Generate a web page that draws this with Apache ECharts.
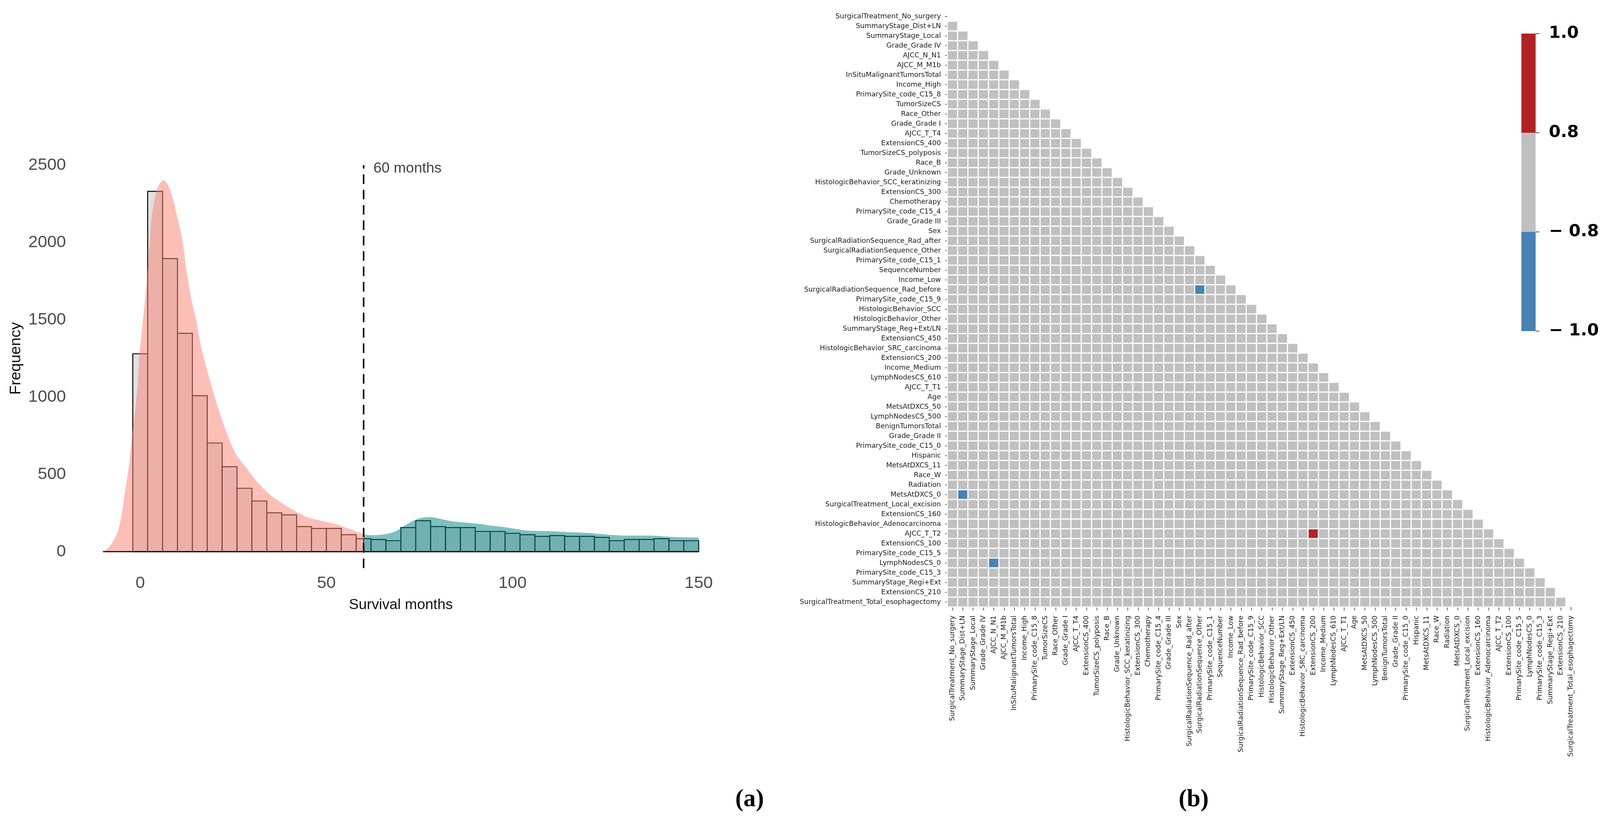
<!DOCTYPE html>
<html><head><meta charset="utf-8">
<script src="https://cdn.jsdelivr.net/npm/echarts@6/dist/echarts.min.js"></script>
<style>html,body{margin:0;padding:0;background:#fff;overflow:hidden;} #chart{position:absolute;left:0;top:0;}</style>
</head><body><div id="chart"></div>
<script>
// ---------- (a) Survival-months histogram ----------
const binEdges = [-2,2,6,10,14,18,22,26,30,34,38,42,46,50,54,58,60,62,66,70,74,78,82,86,90,94,98,102,106,110,114,118,122,126,130,134,138,142,146,150];
const binCounts = [1280,2331,1896,1412,1009,703,550,410,328,251,238,162,150,150,110,84,
                   84,79,71,156,200,162,156,156,131,131,119,110,99,104,99,99,93,71,79,79,84,71,71];
const pinkDensityMonths = [-10,-9,-8,-7,-6,-5,-4,-3,-2.2,-1.2,-0.6,-0.2,0.5,1,1.5,2.2,3,4,5,6.3,7.6,9,10,11.3,12.6,14,15,16.2,18,20,22,24,26,28.5,31,35,41,45,50,53,57.5,60];
const pinkDensityFreq   = [0,15,40,80,130,240,400,560,750,942,1110,1280,1440,1560,1680,1881,2150,2294,2371,2404,2364,2263,2157,2018,1789,1600,1505,1340,1169,1000,850,720,620,543,463,366,270,222,193,174,135,114];
const tealDensityMonths = [60,62,64,66,68.5,70.8,72.9,75,77.9,80.6,84,87.2,90.6,93.8,98.3,103.7,109.2,114.7,120.3,125.8,131.3,136.8,142.3,150];
const tealDensityFreq   = [110,107,108,114,131,165,195,216,224,212,196,189,181,170,157,137,133,127,121,110,104,104,96,91];
const cutoffMonth = 60;
const cutoffLabel = '60 months';
const histXTicks = [0,50,100,150];

// ---------- (b) Correlation heatmap ----------
const heatmapVars = [
 'SurgicalTreatment_No_surgery','SummaryStage_Dist+LN','SummaryStage_Local','Grade_Grade IV','AJCC_N_N1','AJCC_M_M1b',
 'InSituMalignantTumorsTotal','Income_High','PrimarySite_code_C15_8','TumorSizeCS','Race_Other','Grade_Grade I','AJCC_T_T4',
 'ExtensionCS_400','TumorSizeCS_polyposis','Race_B','Grade_Unknown','HistologicBehavior_SCC_keratinizing','ExtensionCS_300',
 'Chemotherapy','PrimarySite_code_C15_4','Grade_Grade III','Sex','SurgicalRadiationSequence_Rad_after','SurgicalRadiationSequence_Other',
 'PrimarySite_code_C15_1','SequenceNumber','Income_Low','SurgicalRadiationSequence_Rad_before','PrimarySite_code_C15_9',
 'HistologicBehavior_SCC','HistologicBehavior_Other','SummaryStage_Reg+Ext/LN','ExtensionCS_450','HistologicBehavior_SRC_carcinoma',
 'ExtensionCS_200','Income_Medium','LymphNodesCS_610','AJCC_T_T1','Age','MetsAtDXCS_50','LymphNodesCS_500','BenignTumorsTotal',
 'Grade_Grade II','PrimarySite_code_C15_0','Hispanic','MetsAtDXCS_11','Race_W','Radiation','MetsAtDXCS_0',
 'SurgicalTreatment_Local_excision','ExtensionCS_160','HistologicBehavior_Adenocarcinoma','AJCC_T_T2','ExtensionCS_100',
 'PrimarySite_code_C15_5','LymphNodesCS_0','PrimarySite_code_C15_3','SummaryStage_Regi+Ext','ExtensionCS_210',
 'SurgicalTreatment_Total_esophagectomy'
];
// cells whose |r| >= 0.8 (row variable, column variable, estimated r)
const strongCorrelations = [
 ['SurgicalRadiationSequence_Rad_before','SurgicalRadiationSequence_Other',-0.85],
 ['MetsAtDXCS_0','SummaryStage_Dist+LN',-0.85],
 ['AJCC_T_T2','ExtensionCS_200',0.85],
 ['LymphNodesCS_0','AJCC_N_N1',-0.85]
];
const weakCorrelation = 0; // every other lower-triangle cell lies in the grey band (-0.8, 0.8)
const colorbarTickLabels = ['− 1.0','− 0.8','0.8','1.0'];
const colorbarBandColors = ['#4682b4','#c0c0c0','#b22222'];

// ---------- build ----------
const histData = binCounts.map((c,k)=>[binEdges[k], binEdges[k+1], c]);
const pinkData = pinkDensityMonths.map((m,k)=>[m, pinkDensityFreq[k]]);
const tealData = tealDensityMonths.map((m,k)=>[m, tealDensityFreq[k]]);
const heatData = [];
for (let i=0;i<heatmapVars.length;i++){
  for (let j=0;j<i;j++){
    let v = weakCorrelation;
    strongCorrelations.forEach(s=>{ if(s[0]===heatmapVars[i] && s[1]===heatmapVars[j]) v = s[2]; });
    heatData.push([j,i,v]);
  }
}

// layout is designed for 4233x2113 and scaled to the actual viewport
const W = window.innerWidth || 4233, H = window.innerHeight || 2113;
const sx = W/4233, sy = H/2113, sf = (sx+sy)/2;
const X = v=>v*sx, Y = v=>v*sy, F = v=>v*sf;
const el = document.getElementById('chart');
el.style.width = W+'px'; el.style.height = H+'px';

const chart = echarts.init(el, null, {renderer:'canvas', devicePixelRatio:1, width:W, height:H});
const HF = 'Liberation Sans, Arial, sans-serif';
const DF = 'DejaVu Sans, sans-serif';
const n = heatmapVars.length;
const panelRich = {p:{fontFamily:'Liberation Serif',fontSize:F(64),color:'#000'},b:{fontFamily:'Liberation Serif',fontSize:F(64),fontWeight:'bold',color:'#000'}};

chart.setOption({
  animation:false,
  backgroundColor:'#fff',
  title:[
    {text:'{p|(}{b|a}{p|)}', left:X(1940), top:Y(2012), textStyle:{rich:panelRich}},
    {text:'{p|(}{b|b}{p|)}', left:X(3113), top:Y(2012), textStyle:{rich:panelRich}}
  ],
  visualMap:{
    type:'piecewise', show:false, seriesIndex:5, dimension:2,
    pieces:[{lte:-0.8,color:colorbarBandColors[0]},{gt:-0.8,lt:0.8,color:colorbarBandColors[1]},{gte:0.8,color:colorbarBandColors[2]}]
  },
  grid:[
    {left:X(272.5), top:Y(423), width:X(1576), height:Y(990)},
    {left:X(2506.4), top:Y(29.5), width:X(27.27*n), height:Y(25*n)},
    {left:X(4025), top:Y(86), width:X(40), height:Y(762)}
  ],
  xAxis:[
    {gridIndex:0, type:'value', min:-10, max:150,
     axisLine:{show:false}, axisTick:{show:false}, splitLine:{show:false},
     axisLabel:{customValues:histXTicks, fontSize:F(44), color:'#4d4d4d', fontFamily:HF, margin:Y(60)},
     name:'Survival months', nameLocation:'middle', nameGap:Y(118),
     nameTextStyle:{fontSize:F(38), color:'#111', fontFamily:HF}},
    {gridIndex:1, type:'category', data:heatmapVars, position:'bottom',
     axisLine:{show:false}, splitLine:{show:false},
     axisTick:{show:true, alignWithLabel:true, interval:0, length:Y(9), lineStyle:{color:'#333', width:1.5}},
     axisLabel:{interval:0, rotate:90, fontSize:F(18), color:'#1a1a1a', fontFamily:DF, margin:Y(22)}},
    {gridIndex:2, type:'category', data:[''], show:false}
  ],
  yAxis:[
    {gridIndex:0, type:'value', min:0, max:2500, interval:500,
     axisLine:{show:false}, axisTick:{show:false}, splitLine:{show:false},
     axisLabel:{formatter:v=>String(v), fontSize:F(44), color:'#4d4d4d', fontFamily:HF, margin:X(98)},
     name:'Frequency', nameLocation:'middle', nameGap:X(210),
     nameTextStyle:{fontSize:F(40), color:'#111', fontFamily:HF}},
    {gridIndex:1, type:'category', data:heatmapVars, inverse:true,
     axisLine:{show:false}, splitLine:{show:false},
     axisTick:{show:true, alignWithLabel:true, interval:0, length:X(6), lineStyle:{color:'#333', width:1.5}},
     axisLabel:{interval:0, fontSize:F(18), color:'#1a1a1a', fontFamily:DF, margin:X(17)}},
    {gridIndex:2, type:'value', min:0, max:3, interval:1, position:'right',
     axisLine:{show:false}, splitLine:{show:false},
     axisTick:{show:true, length:X(10), lineStyle:{color:'#555', width:2}},
     axisLabel:{formatter:(v)=>colorbarTickLabels[Math.round(v)], fontSize:F(44), fontWeight:'bold', color:'#000', fontFamily:DF, margin:X(35)}}
  ],
  series:[
    {type:'custom', name:'histogram', xAxisIndex:0, yAxisIndex:0, data:histData, encode:{x:[0,1], y:2}, z:1, silent:true,
     renderItem:(params, api)=>{
       const p0 = api.coord([api.value(0), api.value(2)]);
       const p1 = api.coord([api.value(1), 0]);
       return {type:'rect', shape:{x:p0[0], y:p0[1], width:p1[0]-p0[0], height:p1[1]-p0[1]},
               style:{fill:'#e0e0e0', stroke:'#000', lineWidth:F(2.5)}};
     }},
    {type:'line', name:'density <60', xAxisIndex:0, yAxisIndex:0, data:pinkData, smooth:0.3, symbol:'none', z:2, silent:true,
     lineStyle:{width:0, opacity:0}, areaStyle:{color:'rgba(250,128,114,0.5)', opacity:1}},
    {type:'line', name:'density >=60', xAxisIndex:0, yAxisIndex:0, data:tealData, smooth:0.3, symbol:'none', z:2, silent:true,
     lineStyle:{width:0, opacity:0}, areaStyle:{color:'rgba(0,128,128,0.5)', opacity:1}},
    {type:'line', name:'baseline', xAxisIndex:0, yAxisIndex:0, data:[[pinkDensityMonths[0],0],[tealDensityMonths[tealDensityMonths.length-1],0]],
     symbol:'none', z:3, silent:true, lineStyle:{color:'#000', width:F(3)}},
    {type:'line', name:'cutoff', xAxisIndex:0, yAxisIndex:0, data:[[cutoffMonth,-106],[cutoffMonth,2500]], clip:false,
     symbol:'none', z:4, silent:true, lineStyle:{color:'#000', width:F(4), type:[F(25),F(15)]}},
    {type:'heatmap', name:'corr', xAxisIndex:1, yAxisIndex:1, data:heatData, silent:true,
     itemStyle:{borderColor:'#fff', borderWidth:F(3)}},
    {type:'bar', xAxisIndex:2, yAxisIndex:2, stack:'cb', data:[1], barWidth:'100%', silent:true, itemStyle:{color:colorbarBandColors[0]}},
    {type:'bar', xAxisIndex:2, yAxisIndex:2, stack:'cb', data:[1], barWidth:'100%', silent:true, itemStyle:{color:colorbarBandColors[1]}},
    {type:'bar', xAxisIndex:2, yAxisIndex:2, stack:'cb', data:[1], barWidth:'100%', silent:true, itemStyle:{color:colorbarBandColors[2]}},
    {type:'scatter', name:'cutoff label', xAxisIndex:0, yAxisIndex:0, data:[[cutoffMonth,2500]], symbolSize:0, z:5, silent:true, clip:false,
     label:{show:true, formatter:cutoffLabel, position:'right', distance:X(26), offset:[0,Y(9)], fontSize:F(38), color:'#111', fontFamily:HF}}
  ]
});
</script></body></html>
